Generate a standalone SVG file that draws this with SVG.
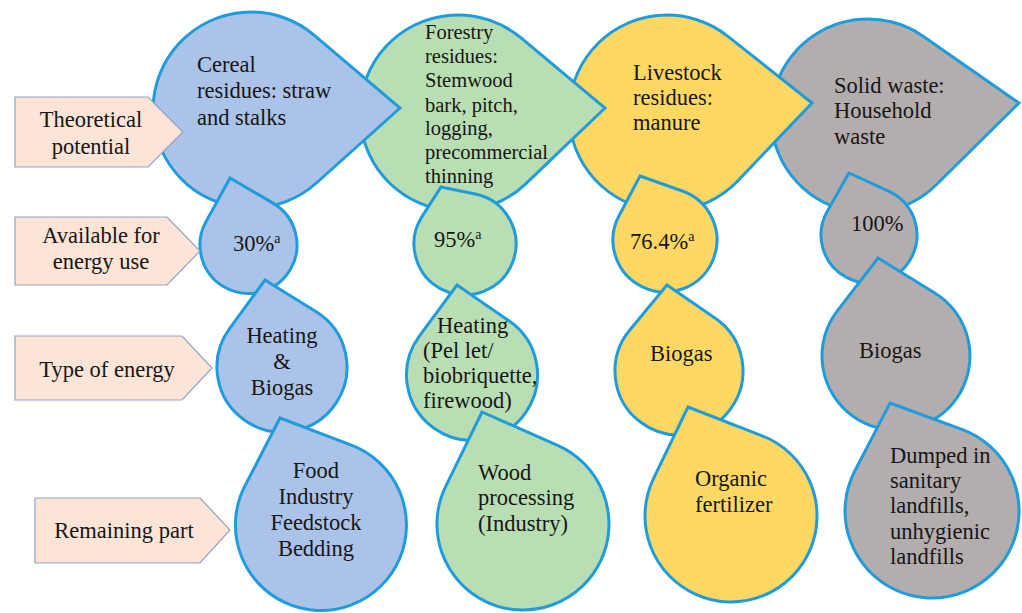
<svg xmlns="http://www.w3.org/2000/svg" width="1022" height="613" viewBox="0 0 1022 613">
<style>
.drop{stroke:#1F9CDB;stroke-width:3;stroke-linejoin:miter}
.blue{fill:#ABC3E8}.green{fill:#B9DEB3}.yellow{fill:#FFD863}.gray{fill:#B3ADAD}
.lbl{fill:#FCE4D6;stroke:#8FA3C6;stroke-width:1.2}
text{font-family:"Liberation Serif","Times New Roman",serif;font-size:22.5px;fill:#161616}
.c{text-anchor:middle}
.sm{font-size:20.5px}
.sup{font-size:14px}
</style>
<rect width="1022" height="613" fill="#ffffff"/>
<!-- Row 1 -->
<g id="gray-theoretical"><path class="drop gray" d="M1019 103 L935.8 185.3 A97 97 0 1 1 923.1 36.2 Z"/>
<text x="834" y="93">Solid waste:</text><text x="834" y="118">Household</text><text x="834" y="144">waste</text></g>
<g id="yellow-theoretical"><path class="drop yellow" d="M812 103 L737.9 180.7 A98 98 0 1 1 727.9 36.3 Z"/>
<text x="633" y="80">Livestock</text><text x="633" y="105">residues:</text><text x="633" y="130">manure</text></g>
<g id="green-theoretical"><path class="drop green" d="M605 108 L525.7 183.8 A98 98 0 1 1 520.8 37.7 Z"/>
<text class="sm" x="425" y="39">Forestry</text><text class="sm" x="425" y="63">residues:</text><text class="sm" x="425" y="87">Stemwood</text><text class="sm" x="425" y="112">bark, pitch,</text><text class="sm" x="425" y="135">logging,</text><text class="sm" x="425" y="159">precommercial</text><text class="sm" x="425" y="183">thinning</text></g>
<g id="blue-theoretical"><path class="drop blue" d="M400 108 L316.4 183 A98 98 0 1 1 314.4 35.3 Z"/>
<text x="197" y="72">Cereal</text><text x="197" y="98">residues: straw</text><text x="197" y="125">and stalks</text></g>
<!-- Row 2 -->
<g id="blue-available"><path class="drop blue" d="M230 178 L273 203.1 A48.5 48.5 0 1 1 206 221.6 Z"/>
<text x="233" y="251">30%<tspan class="sup" dy="-8">a</tspan></text></g>
<g id="green-available"><path class="drop green" d="M441 187 L475.3 194 A51 51 0 1 1 422.1 216.4 Z"/>
<text x="434" y="247">95%<tspan class="sup" dy="-8">a</tspan></text></g>
<g id="yellow-available"><path class="drop yellow" d="M640 176 L682.3 191 A52 52 0 1 1 619 215.7 Z"/>
<text x="630" y="249">76.4%<tspan class="sup" dy="-8">a</tspan></text></g>
<g id="gray-available"><path class="drop gray" d="M849 173 L889 191.4 A48 48 0 1 1 827.3 211.3 Z"/>
<text x="851" y="231">100%</text></g>
<!-- Row 3 -->
<g id="blue-type"><path class="drop blue" d="M265 280 L316.2 311.8 A65 65 0 1 1 229.5 328.7 Z"/>
<text class="c" x="282" y="343">Heating</text><text class="c" x="282" y="369">&amp;</text><text class="c" x="282" y="395">Biogas</text></g>
<g id="green-type"><path class="drop green" d="M457 285 L509.3 321.1 A65.5 65.5 0 1 1 419.3 336.1 Z"/>
<text x="437" y="333">Heating</text><text x="423" y="358">(Pel let/</text><text x="423" y="383">biobriquette,</text><text x="423" y="408">firewood)</text></g>
<g id="yellow-type"><path class="drop yellow" d="M667 285 L715.3 318.3 A64 64 0 1 1 629.6 330.3 Z"/>
<text x="650" y="361">Biogas</text></g>
<g id="gray-type"><path class="drop gray" d="M878 258 L934.8 293 A74 74 0 1 1 837.3 310.9 Z"/>
<text x="859" y="358">Biogas</text></g>
<!-- Row 4 -->
<g id="blue-remaining"><path class="drop blue" d="M280 418 L351.3 445.1 A85.5 85.5 0 1 1 245 485.8 Z"/>
<text class="c" x="316" y="478">Food</text><text class="c" x="316" y="504">Industry</text><text class="c" x="316" y="530">Feedstock</text><text class="c" x="316" y="556">Bedding</text></g>
<g id="green-remaining"><path class="drop green" d="M482 412 L557.6 445.3 A86 86 0 1 1 445.7 486.3 Z"/>
<text x="478" y="480">Wood</text><text x="478" y="505">processing</text><text x="478" y="531">(Industry)</text></g>
<g id="yellow-remaining"><path class="drop yellow" d="M688 407 L762.2 435.8 A86 86 0 1 1 653.5 478.7 Z"/>
<text x="695" y="486">Organic</text><text x="695" y="512">fertilizer</text></g>
<g id="gray-remaining"><path class="drop gray" d="M890 403 L961.9 429.3 A87 87 0 1 1 854.8 471 Z"/>
<text x="890" y="463">Dumped in</text><text x="890" y="488">sanitary</text><text x="890" y="513">landfills,</text><text x="890" y="539">unhygienic</text><text x="890" y="564">landfills</text></g>
<!-- Row labels -->
<g id="label-theoretical"><path class="lbl" d="M15 97 H148 L183 132 L148 167 H15 Z"/>
<text class="c" x="91" y="127">Theoretical</text><text class="c" x="91" y="154">potential</text></g>
<g id="label-available"><path class="lbl" d="M15 217 H167 L200 251 L167 285 H15 Z"/>
<text class="c" x="101" y="243">Available for</text><text class="c" x="101" y="269">energy use</text></g>
<g id="label-type"><path class="lbl" d="M15 336 H182 L212 368 L182 400 H15 Z"/>
<text class="c" x="107" y="377">Type of energy</text></g>
<g id="label-remaining"><path class="lbl" d="M35 498 H200 L230 530 L200 563 H35 Z"/>
<text class="c" x="124" y="538">Remaining part</text></g>
</svg>
